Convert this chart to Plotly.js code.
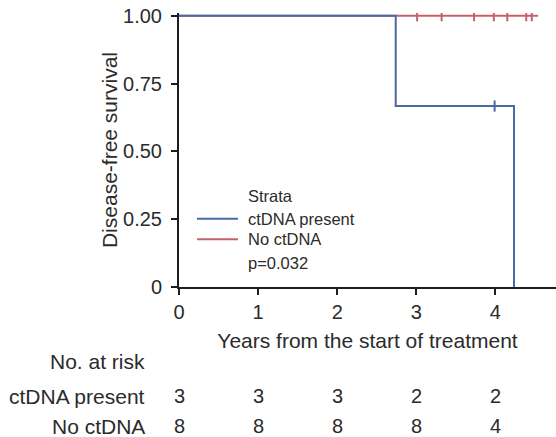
<!DOCTYPE html>
<html>
<head>
<meta charset="utf-8">
<script src="https://cdn.plot.ly/plotly-3.0.1.min.js"></script>
<style>html,body{margin:0;padding:0;background:#fff;}#chart{width:556px;height:437px;}</style>
</head>
<body>
<div id="chart"></div>
<script>
// ---- data ----
const groupNames = ["ctDNA present", "No ctDNA"];
const blueTimes = [0, 2.74, 4.235];
const blueSurv = [1, 0.667, 0];
const blueCensorTimes = [3.99];
const blueCensorSurv = [0.667];
const redTimes = [0, 4.54];
const redSurv = [1, 1];
const redCensorTimes = [3.01, 3.32, 3.73, 3.98, 4.15, 4.39, 4.46];
const redCensorSurv = [1, 1, 1, 1, 1, 1, 1];
const xTickVals = [0, 1, 2, 3, 4];
const yTickVals = [0, 0.25, 0.5, 0.75, 1];
const yTickText = ["0", "0.25", "0.50", "0.75", "1.00"];
const riskTimes = [0, 1, 2, 3, 4];
const riskBlue = [3, 3, 3, 2, 2];
const riskRed = [8, 8, 8, 8, 4];
const legendTitle = "Strata";
const pText = "p=0.032";

const BLUE = "#4a69a7";
const RED = "#c7606d";
const TXT = "#2b2b2b";
const AX = "#1e1e1e";
const FONT = "Liberation Sans, Arial, sans-serif";
const groupColors = [BLUE, RED];

const traces = [
  {x: redTimes, y: redSurv, type: "scatter", mode: "lines", line: {shape: "hv", color: RED, width: 2},
   name: groupNames[1], showlegend: false, hoverinfo: "skip"},
  {x: redCensorTimes, y: redCensorSurv, type: "scatter", mode: "markers", showlegend: false,
   marker: {symbol: "line-ns", size: 8, line: {color: RED, width: 2}}, hoverinfo: "skip"},
  {x: blueTimes, y: blueSurv, type: "scatter", mode: "lines", line: {shape: "hv", color: BLUE, width: 2},
   name: groupNames[0], showlegend: false, hoverinfo: "skip"},
  {x: blueCensorTimes, y: blueCensorSurv, type: "scatter", mode: "markers", showlegend: false,
   marker: {symbol: "line-ns", size: 8, line: {color: BLUE, width: 2}}, hoverinfo: "skip"}
];

// plot area geometry
const L = 179, T = 13.3, B = 150, W = 556, H = 437;
const plotH = H - T - B, plotW = W - L;
const pyOf = (px) => (287 - px) / plotH; // paper y for a pixel row
const pxOf = (px) => (px - L) / plotW;   // paper x for a pixel column

const annotations = [];
const shapes = [];
const legFont = {family: FONT, size: 16.5, color: TXT};
annotations.push({xref: "paper", yref: "paper", x: pxOf(246), y: pyOf(196), xanchor: "left", yanchor: "middle",
  text: legendTitle, showarrow: false, font: legFont});
const legRows = [218.7, 239.3];
groupNames.forEach((g, i) => {
  shapes.push({type: "line", xref: "paper", yref: "paper", x0: pxOf(197), x1: pxOf(238), y0: pyOf(legRows[i]), y1: pyOf(legRows[i]),
    line: {color: groupColors[i], width: 2}});
  annotations.push({xref: "paper", yref: "paper", x: pxOf(246), y: pyOf(legRows[i]), xanchor: "left", yanchor: "middle",
    text: g, showarrow: false, font: legFont});
});
annotations.push({xref: "paper", yref: "paper", x: pxOf(246), y: pyOf(263.5), xanchor: "left", yanchor: "middle",
  text: pText, showarrow: false, font: legFont});

annotations.push({xref: "paper", yref: "paper", x: pxOf(147), y: pyOf(361), xanchor: "right", yanchor: "middle",
  text: "No. at risk", showarrow: false, font: {family: FONT, size: 21, color: TXT}});
const riskRows = [396, 426];
[riskBlue, riskRed].forEach((vals, r) => {
  annotations.push({xref: "paper", yref: "paper", x: pxOf(147), y: pyOf(riskRows[r]), xanchor: "right", yanchor: "middle",
    text: groupNames[r], showarrow: false, font: {family: FONT, size: 21, color: TXT}});
  riskTimes.forEach((t, i) => {
    annotations.push({xref: "x", yref: "paper", x: t, y: pyOf(riskRows[r]), xanchor: "center", yanchor: "middle",
      text: String(vals[i]), showarrow: false, font: {family: FONT, size: 20, color: TXT}});
  });
});

const layout = {
  width: W, height: H,
  margin: {l: L, r: 0, t: T, b: B, pad: 0},
  paper_bgcolor: "#fff", plot_bgcolor: "#fff",
  font: {family: FONT, color: TXT},
  showlegend: false,
  xaxis: {range: [0, plotW / 79.1], tickvals: xTickVals, ticks: "outside", ticklen: 6, tickwidth: 2, tickcolor: AX,
    showline: true, linecolor: AX, linewidth: 2, showgrid: false, zeroline: false,
    tickfont: {family: FONT, size: 20, color: TXT},
    title: {text: "Years from the start of treatment", font: {family: FONT, size: 21, color: TXT}, standoff: 11}},
  yaxis: {range: [0, 1.01], tickvals: yTickVals, ticktext: yTickText, ticks: "outside", ticklen: 6, tickwidth: 2, tickcolor: AX,
    showline: true, linecolor: AX, linewidth: 2, showgrid: false, zeroline: false, ticklabelstandoff: 5,
    tickfont: {family: FONT, size: 20, color: TXT},
    title: {text: "Disease-free survival", font: {family: FONT, size: 21, color: TXT}, standoff: 0}},
  shapes: shapes,
  annotations: annotations
};

Plotly.newPlot("chart", traces, layout, {displayModeBar: false, staticPlot: true});
</script>
</body>
</html>
